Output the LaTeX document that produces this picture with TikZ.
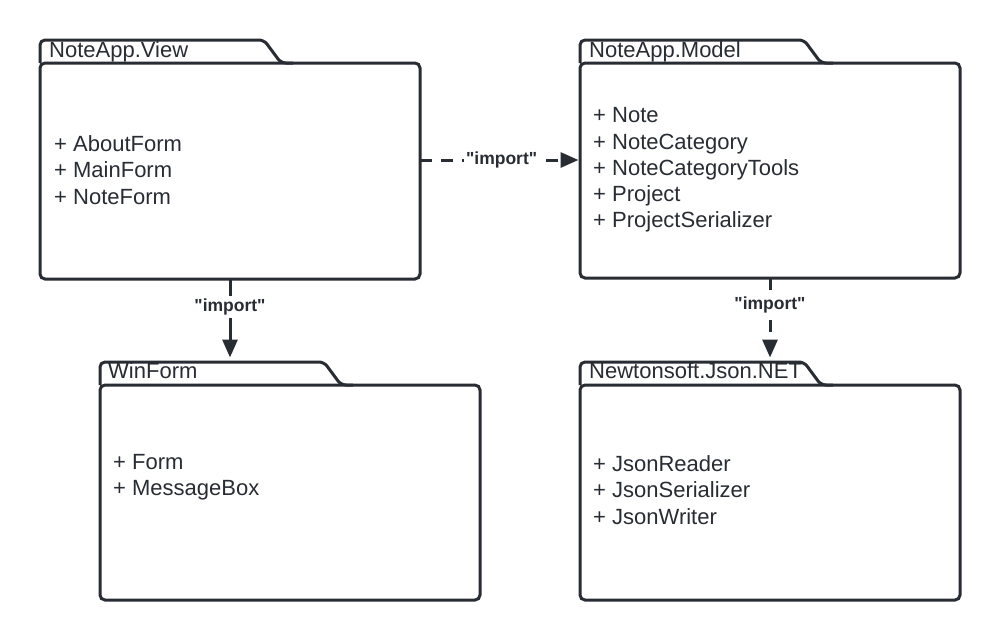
\documentclass[tikz,border=0pt]{standalone}
\usepackage{fontspec}
\setmainfont{Liberation Sans}[Ligatures=TeXOff]
\usetikzlibrary{arrows.meta}
\definecolor{ink}{RGB}{40,44,51}
\newcommand{\qimport}{"import"}
\begin{document}
\begin{tikzpicture}[x=1pt,y=-1pt, ink,
  body/.style={draw, rounded corners=5pt, line width=3pt, outer sep=0pt, inner sep=0pt, anchor=north west},
  tabshape/.style={draw, rounded corners=5pt, line width=3pt, line join=round},
  ttl/.style={font=\fontsize{22}{25}\selectfont, anchor=west, inner sep=0pt, text=ink},
  items/.style={font=\fontsize{22}{26.2}\selectfont, anchor=west, align=left, inner sep=0pt, text=ink},
  lbl/.style={font=\bfseries\fontsize{17.5}{20}\selectfont, fill=white, inner xsep=2pt, inner ysep=3pt, text=ink},
  dep/.style={line width=3pt, shorten >=1.5pt, -{Triangle[length=18pt,width=15pt]}},
  dsh/.style={dash pattern=on 12pt off 9pt}]
\fill[white] (0,0) rectangle (1000,640);
\useasboundingbox (0,0) rectangle (1000,640);

% packages: bodies
\node[body, minimum width=380pt, minimum height=216pt] (view) at (40,63) {};
\node[body, minimum width=380pt, minimum height=215pt] (model) at (580,63) {};
\node[body, minimum width=380pt, minimum height=215pt] (winform) at (100,385) {};
\node[body, minimum width=380pt, minimum height=215pt] (json) at (580,385) {};

% tabs
\foreach \p in {view,model,winform,json}{
  \draw[tabshape] (\p.north west) -- ++(0,-23) -- ++(224,0) -- ++(17,23) -- ++(12,0);
}

% titles
\node[ttl] (viewt) at (49,52) {NoteApp.View};
\node[ttl] (modelt) at (589,52) {NoteApp.Model};
\node[ttl] (winformt) at (108,371) {WinForm};
\node[ttl] (jsont) at (589,371) {Newtonsoft.Json.NET};

% contents
\node[items] (viewi) at (54,170) {+ AboutForm\\+ MainForm\\+ NoteForm};
\node[items] (modeli) at (593,170) {+ Note\\+ NoteCategory\\+ NoteCategoryTools\\+ Project\\+ ProjectSerializer};
\node[items] (winformi) at (113,477) {+ Form\\+ MessageBox};
\node[items] (jsoni) at (593,490) {+ JsonReader\\+ JsonSerializer\\+ JsonWriter};

% connector anchors
\coordinate (midy) at (0,160);
\coordinate (taby) at (0,359);
\coordinate (wintop) at (view.south |- taby);
\coordinate (jsontop) at (model.south |- taby);

% connectors
\draw[dep,dsh] (view.east |- midy) -- (model.west |- midy)
  node[lbl, pos=0.51] (l1) {\qimport};
\draw[dep] (view.south) -- (wintop)
  node[lbl, pos=0.35] (l2) {\qimport};
\draw[dep,dsh] (model.south) -- (jsontop)
  node[lbl, pos=0.33] (l3) {\qimport};
\end{tikzpicture}
\end{document}
